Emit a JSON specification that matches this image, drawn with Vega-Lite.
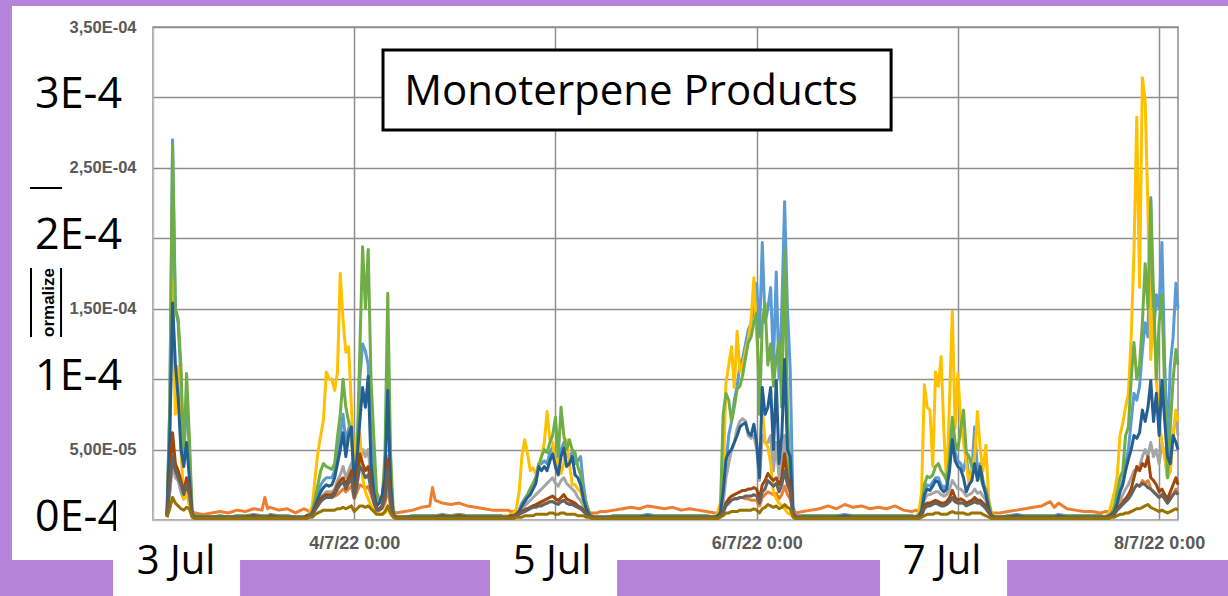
{
"$schema":"https://vega.github.io/schema/vega-lite/v6.json",
"width":1025,"height":493,
"autosize":"none",
"padding":{"left":153,"top":27,"right":50,"bottom":76},
"background":"white",
"config":{"view":{"stroke":"#8e8e8e","strokeWidth":1.5}},
"layer":[
{
"data":{"values":[
{"t":"2022-07-03T01:40","a":3e-6,"b":3e-6,"c":3e-6,"d":2e-6,"e":3e-6,"f":3e-6,"g":3e-6,"h":3e-6,"i":2e-6},
{"t":"2022-07-03T02:00","a":80e-6,"b":20e-6,"c":20e-6,"d":50e-6,"e":80e-6,"f":60e-6,"g":30e-6,"h":25e-6,"i":8e-6},
{"t":"2022-07-03T02:20","a":270e-6,"b":45e-6,"c":40e-6,"d":170e-6,"e":266e-6,"f":154e-6,"g":62e-6,"h":45e-6,"i":16e-6},
{"t":"2022-07-03T02:40","a":150e-6,"b":35e-6,"c":30e-6,"d":75e-6,"e":150e-6,"f":111e-6,"g":40e-6,"h":35e-6,"i":12e-6},
{"t":"2022-07-03T03:00","a":140e-6,"b":30e-6,"c":28e-6,"d":109e-6,"e":143e-6,"f":87e-6,"g":35e-6,"h":30e-6,"i":10e-6},
{"t":"2022-07-03T03:20","a":100e-6,"b":22e-6,"c":20e-6,"d":50e-6,"e":110e-6,"f":50e-6,"g":28e-6,"h":25e-6,"i":8e-6},
{"t":"2022-07-03T03:40","a":40e-6,"b":15e-6,"c":15e-6,"d":15e-6,"e":40e-6,"f":38e-6,"g":20e-6,"h":18e-6,"i":7e-6},
{"t":"2022-07-03T04:00","a":90e-6,"b":20e-6,"c":18e-6,"d":20e-6,"e":104e-6,"f":55e-6,"g":30e-6,"h":25e-6,"i":9e-6},
{"t":"2022-07-03T04:20","a":50e-6,"b":18e-6,"c":15e-6,"d":10e-6,"e":60e-6,"f":30e-6,"g":22e-6,"h":18e-6,"i":8e-6},
{"t":"2022-07-03T04:40","a":5e-6,"b":6e-6,"c":4e-6,"d":3e-6,"e":5e-6,"f":4e-6,"g":4e-6,"h":4e-6,"i":2e-6},
{"t":"2022-07-03T05:00","a":3e-6,"b":5e-6,"c":2e-6,"d":1e-6,"e":3e-6,"f":2e-6,"g":2e-6,"h":2e-6,"i":1e-6},
{"t":"2022-07-03T06:00","a":3e-6,"b":4e-6,"c":2e-6,"d":1e-6,"e":3e-6,"f":2e-6,"g":2e-6,"h":2e-6,"i":1e-6},
{"t":"2022-07-03T07:00","a":2e-6,"b":5e-6,"c":2e-6,"d":1e-6,"e":2e-6,"f":2e-6,"g":2e-6,"h":2e-6,"i":1e-6},
{"t":"2022-07-03T08:00","a":3e-6,"b":6e-6,"c":2e-6,"d":1e-6,"e":3e-6,"f":2e-6,"g":2e-6,"h":2e-6,"i":1e-6},
{"t":"2022-07-03T09:00","a":2e-6,"b":5e-6,"c":2e-6,"d":1e-6,"e":2e-6,"f":2e-6,"g":2e-6,"h":2e-6,"i":1e-6},
{"t":"2022-07-03T10:00","a":3e-6,"b":7e-6,"c":2e-6,"d":1e-6,"e":3e-6,"f":2e-6,"g":2e-6,"h":2e-6,"i":1e-6},
{"t":"2022-07-03T11:00","a":3e-6,"b":6e-6,"c":2e-6,"d":1e-6,"e":3e-6,"f":2e-6,"g":2e-6,"h":2e-6,"i":1e-6},
{"t":"2022-07-03T12:00","a":4e-6,"b":8e-6,"c":3e-6,"d":1e-6,"e":3e-6,"f":3e-6,"g":3e-6,"h":2e-6,"i":1e-6},
{"t":"2022-07-03T13:00","a":3e-6,"b":7e-6,"c":2e-6,"d":1e-6,"e":3e-6,"f":2e-6,"g":2e-6,"h":2e-6,"i":1e-6},
{"t":"2022-07-03T13:20","a":3e-6,"b":16e-6,"c":3e-6,"d":1e-6,"e":3e-6,"f":2e-6,"g":2e-6,"h":2e-6,"i":1e-6},
{"t":"2022-07-03T13:40","a":3e-6,"b":8e-6,"c":2e-6,"d":1e-6,"e":3e-6,"f":2e-6,"g":2e-6,"h":2e-6,"i":1e-6},
{"t":"2022-07-03T14:00","a":4e-6,"b":9e-6,"c":3e-6,"d":1e-6,"e":3e-6,"f":3e-6,"g":3e-6,"h":2e-6,"i":1e-6},
{"t":"2022-07-03T15:00","a":3e-6,"b":7e-6,"c":2e-6,"d":1e-6,"e":3e-6,"f":2e-6,"g":2e-6,"h":2e-6,"i":1e-6},
{"t":"2022-07-03T16:00","a":3e-6,"b":8e-6,"c":2e-6,"d":1e-6,"e":3e-6,"f":2e-6,"g":2e-6,"h":2e-6,"i":1e-6},
{"t":"2022-07-03T17:00","a":2e-6,"b":5e-6,"c":2e-6,"d":1e-6,"e":2e-6,"f":2e-6,"g":2e-6,"h":2e-6,"i":1e-6},
{"t":"2022-07-03T18:00","a":2e-6,"b":8e-6,"c":2e-6,"d":2e-6,"e":2e-6,"f":2e-6,"g":2e-6,"h":2e-6,"i":1e-6},
{"t":"2022-07-03T18:20","a":3e-6,"b":7e-6,"c":3e-6,"d":3e-6,"e":3e-6,"f":3e-6,"g":3e-6,"h":2e-6,"i":1e-6},
{"t":"2022-07-03T18:40","a":3e-6,"b":6e-6,"c":3e-6,"d":5e-6,"e":4e-6,"f":3e-6,"g":3e-6,"h":3e-6,"i":2e-6},
{"t":"2022-07-03T19:00","a":5e-6,"b":5e-6,"c":4e-6,"d":10e-6,"e":6e-6,"f":5e-6,"g":4e-6,"h":4e-6,"i":2e-6},
{"t":"2022-07-03T19:20","a":12e-6,"b":8e-6,"c":8e-6,"d":30e-6,"e":15e-6,"f":10e-6,"g":8e-6,"h":7e-6,"i":4e-6},
{"t":"2022-07-03T19:40","a":18e-6,"b":12e-6,"c":12e-6,"d":48e-6,"e":25e-6,"f":15e-6,"g":12e-6,"h":10e-6,"i":5e-6},
{"t":"2022-07-03T20:00","a":25e-6,"b":14e-6,"c":15e-6,"d":60e-6,"e":35e-6,"f":20e-6,"g":15e-6,"h":13e-6,"i":6e-6},
{"t":"2022-07-03T20:20","a":28e-6,"b":15e-6,"c":18e-6,"d":71e-6,"e":40e-6,"f":23e-6,"g":17e-6,"h":15e-6,"i":7e-6},
{"t":"2022-07-03T20:40","a":30e-6,"b":16e-6,"c":20e-6,"d":105e-6,"e":38e-6,"f":25e-6,"g":18e-6,"h":16e-6,"i":7e-6},
{"t":"2022-07-03T21:00","a":30e-6,"b":16e-6,"c":20e-6,"d":100e-6,"e":37e-6,"f":24e-6,"g":18e-6,"h":16e-6,"i":7e-6},
{"t":"2022-07-03T21:20","a":30e-6,"b":16e-6,"c":20e-6,"d":100e-6,"e":36e-6,"f":25e-6,"g":18e-6,"h":16e-6,"i":7e-6},
{"t":"2022-07-03T21:40","a":35e-6,"b":17e-6,"c":22e-6,"d":92e-6,"e":40e-6,"f":30e-6,"g":20e-6,"h":18e-6,"i":7e-6},
{"t":"2022-07-03T22:00","a":48e-6,"b":18e-6,"c":28e-6,"d":105e-6,"e":59e-6,"f":40e-6,"g":25e-6,"h":22e-6,"i":8e-6},
{"t":"2022-07-03T22:20","a":60e-6,"b":20e-6,"c":32e-6,"d":175e-6,"e":75e-6,"f":50e-6,"g":28e-6,"h":25e-6,"i":8e-6},
{"t":"2022-07-03T22:40","a":75e-6,"b":22e-6,"c":38e-6,"d":142e-6,"e":100e-6,"f":62e-6,"g":30e-6,"h":27e-6,"i":9e-6},
{"t":"2022-07-03T23:00","a":55e-6,"b":20e-6,"c":30e-6,"d":119e-6,"e":80e-6,"f":45e-6,"g":25e-6,"h":22e-6,"i":8e-6},
{"t":"2022-07-03T23:20","a":65e-6,"b":22e-6,"c":35e-6,"d":123e-6,"e":70e-6,"f":60e-6,"g":30e-6,"h":26e-6,"i":9e-6},
{"t":"2022-07-03T23:40","a":60e-6,"b":24e-6,"c":40e-6,"d":80e-6,"e":59e-6,"f":66e-6,"g":35e-6,"h":30e-6,"i":10e-6},
{"t":"2022-07-04T00:00","a":28e-6,"b":15e-6,"c":20e-6,"d":40e-6,"e":30e-6,"f":25e-6,"g":18e-6,"h":16e-6,"i":6e-6},
{"t":"2022-07-04T00:20","a":45e-6,"b":20e-6,"c":30e-6,"d":62e-6,"e":47e-6,"f":43e-6,"g":30e-6,"h":25e-6,"i":8e-6},
{"t":"2022-07-04T00:40","a":100e-6,"b":25e-6,"c":40e-6,"d":62e-6,"e":120e-6,"f":70e-6,"g":47e-6,"h":38e-6,"i":10e-6},
{"t":"2022-07-04T01:00","a":125e-6,"b":24e-6,"c":50e-6,"d":30e-6,"e":194e-6,"f":94e-6,"g":40e-6,"h":35e-6,"i":10e-6},
{"t":"2022-07-04T01:20","a":120e-6,"b":22e-6,"c":45e-6,"d":20e-6,"e":150e-6,"f":80e-6,"g":35e-6,"h":30e-6,"i":9e-6},
{"t":"2022-07-04T01:40","a":110e-6,"b":24e-6,"c":50e-6,"d":15e-6,"e":192e-6,"f":102e-6,"g":38e-6,"h":32e-6,"i":10e-6},
{"t":"2022-07-04T02:00","a":60e-6,"b":18e-6,"c":30e-6,"d":10e-6,"e":100e-6,"f":40e-6,"g":25e-6,"h":22e-6,"i":8e-6},
{"t":"2022-07-04T02:20","a":35e-6,"b":12e-6,"c":18e-6,"d":8e-6,"e":59e-6,"f":20e-6,"g":15e-6,"h":13e-6,"i":6e-6},
{"t":"2022-07-04T02:40","a":12e-6,"b":7e-6,"c":8e-6,"d":5e-6,"e":20e-6,"f":10e-6,"g":8e-6,"h":7e-6,"i":4e-6},
{"t":"2022-07-04T03:00","a":12e-6,"b":7e-6,"c":8e-6,"d":4e-6,"e":14e-6,"f":12e-6,"g":8e-6,"h":7e-6,"i":4e-6},
{"t":"2022-07-04T03:20","a":15e-6,"b":8e-6,"c":10e-6,"d":4e-6,"e":15e-6,"f":18e-6,"g":10e-6,"h":9e-6,"i":4e-6},
{"t":"2022-07-04T03:40","a":35e-6,"b":12e-6,"c":18e-6,"d":5e-6,"e":47e-6,"f":30e-6,"g":18e-6,"h":15e-6,"i":6e-6},
{"t":"2022-07-04T04:00","a":110e-6,"b":22e-6,"c":45e-6,"d":8e-6,"e":161e-6,"f":92e-6,"g":43e-6,"h":35e-6,"i":10e-6},
{"t":"2022-07-04T04:20","a":30e-6,"b":10e-6,"c":15e-6,"d":4e-6,"e":47e-6,"f":25e-6,"g":15e-6,"h":12e-6,"i":5e-6},
{"t":"2022-07-04T04:40","a":3e-6,"b":6e-6,"c":3e-6,"d":2e-6,"e":5e-6,"f":3e-6,"g":3e-6,"h":3e-6,"i":2e-6},
{"t":"2022-07-04T05:00","a":2e-6,"b":5e-6,"c":2e-6,"d":1e-6,"e":2e-6,"f":2e-6,"g":2e-6,"h":2e-6,"i":1e-6},
{"t":"2022-07-04T06:00","a":2e-6,"b":6e-6,"c":2e-6,"d":1e-6,"e":2e-6,"f":2e-6,"g":2e-6,"h":2e-6,"i":1e-6},
{"t":"2022-07-04T07:00","a":3e-6,"b":7e-6,"c":2e-6,"d":1e-6,"e":3e-6,"f":2e-6,"g":2e-6,"h":2e-6,"i":1e-6},
{"t":"2022-07-04T08:00","a":3e-6,"b":9e-6,"c":2e-6,"d":1e-6,"e":3e-6,"f":2e-6,"g":2e-6,"h":2e-6,"i":1e-6},
{"t":"2022-07-04T09:00","a":3e-6,"b":10e-6,"c":2e-6,"d":1e-6,"e":3e-6,"f":2e-6,"g":2e-6,"h":2e-6,"i":1e-6},
{"t":"2022-07-04T09:20","a":3e-6,"b":23e-6,"c":3e-6,"d":1e-6,"e":3e-6,"f":2e-6,"g":2e-6,"h":2e-6,"i":1e-6},
{"t":"2022-07-04T09:40","a":3e-6,"b":14e-6,"c":3e-6,"d":1e-6,"e":3e-6,"f":2e-6,"g":2e-6,"h":2e-6,"i":1e-6},
{"t":"2022-07-04T10:30","a":4e-6,"b":12e-6,"c":3e-6,"d":1e-6,"e":3e-6,"f":3e-6,"g":3e-6,"h":2e-6,"i":1e-6},
{"t":"2022-07-04T11:30","a":3e-6,"b":11e-6,"c":2e-6,"d":1e-6,"e":3e-6,"f":2e-6,"g":2e-6,"h":2e-6,"i":1e-6},
{"t":"2022-07-04T12:30","a":4e-6,"b":12e-6,"c":3e-6,"d":1e-6,"e":4e-6,"f":3e-6,"g":3e-6,"h":2e-6,"i":1e-6},
{"t":"2022-07-04T13:30","a":3e-6,"b":10e-6,"c":2e-6,"d":1e-6,"e":3e-6,"f":2e-6,"g":2e-6,"h":2e-6,"i":1e-6},
{"t":"2022-07-04T14:30","a":3e-6,"b":9e-6,"c":2e-6,"d":1e-6,"e":3e-6,"f":2e-6,"g":2e-6,"h":2e-6,"i":1e-6},
{"t":"2022-07-04T15:30","a":3e-6,"b":8e-6,"c":2e-6,"d":1e-6,"e":3e-6,"f":2e-6,"g":2e-6,"h":2e-6,"i":1e-6},
{"t":"2022-07-04T16:30","a":3e-6,"b":7e-6,"c":2e-6,"d":1e-6,"e":3e-6,"f":2e-6,"g":2e-6,"h":2e-6,"i":1e-6},
{"t":"2022-07-04T17:30","a":3e-6,"b":7e-6,"c":2e-6,"d":1e-6,"e":3e-6,"f":2e-6,"g":2e-6,"h":2e-6,"i":1e-6},
{"t":"2022-07-04T18:00","a":2e-6,"b":7e-6,"c":2e-6,"d":3e-6,"e":2e-6,"f":2e-6,"g":2e-6,"h":2e-6,"i":1e-6},
{"t":"2022-07-04T18:20","a":2e-6,"b":7e-6,"c":2e-6,"d":3e-6,"e":2e-6,"f":2e-6,"g":2e-6,"h":2e-6,"i":1e-6},
{"t":"2022-07-04T18:40","a":3e-6,"b":6e-6,"c":3e-6,"d":4e-6,"e":3e-6,"f":3e-6,"g":3e-6,"h":2e-6,"i":1e-6},
{"t":"2022-07-04T19:00","a":3e-6,"b":6e-6,"c":3e-6,"d":5e-6,"e":3e-6,"f":3e-6,"g":3e-6,"h":3e-6,"i":1e-6},
{"t":"2022-07-04T19:20","a":4e-6,"b":6e-6,"c":4e-6,"d":8e-6,"e":4e-6,"f":4e-6,"g":4e-6,"h":3e-6,"i":2e-6},
{"t":"2022-07-04T19:40","a":7e-6,"b":6e-6,"c":5e-6,"d":20e-6,"e":6e-6,"f":6e-6,"g":5e-6,"h":4e-6,"i":2e-6},
{"t":"2022-07-04T20:00","a":12e-6,"b":7e-6,"c":8e-6,"d":45e-6,"e":10e-6,"f":10e-6,"g":6e-6,"h":5e-6,"i":2e-6},
{"t":"2022-07-04T20:20","a":15e-6,"b":8e-6,"c":10e-6,"d":57e-6,"e":14e-6,"f":13e-6,"g":7e-6,"h":6e-6,"i":3e-6},
{"t":"2022-07-04T20:40","a":18e-6,"b":8e-6,"c":12e-6,"d":47e-6,"e":18e-6,"f":16e-6,"g":8e-6,"h":7e-6,"i":3e-6},
{"t":"2022-07-04T21:00","a":22e-6,"b":9e-6,"c":14e-6,"d":35e-6,"e":22e-6,"f":18e-6,"g":9e-6,"h":8e-6,"i":3e-6},
{"t":"2022-07-04T21:20","a":26e-6,"b":10e-6,"c":16e-6,"d":37e-6,"e":26e-6,"f":22e-6,"g":10e-6,"h":9e-6,"i":3e-6},
{"t":"2022-07-04T21:40","a":30e-6,"b":10e-6,"c":18e-6,"d":33e-6,"e":30e-6,"f":26e-6,"g":11e-6,"h":9e-6,"i":4e-6},
{"t":"2022-07-04T22:00","a":40e-6,"b":11e-6,"c":20e-6,"d":38e-6,"e":38e-6,"f":38e-6,"g":12e-6,"h":10e-6,"i":4e-6},
{"t":"2022-07-04T22:20","a":40e-6,"b":11e-6,"c":22e-6,"d":45e-6,"e":45e-6,"f":35e-6,"g":13e-6,"h":10e-6,"i":4e-6},
{"t":"2022-07-04T22:40","a":42e-6,"b":12e-6,"c":24e-6,"d":55e-6,"e":50e-6,"f":38e-6,"g":14e-6,"h":11e-6,"i":4e-6},
{"t":"2022-07-04T23:00","a":40e-6,"b":12e-6,"c":26e-6,"d":77e-6,"e":48e-6,"f":35e-6,"g":15e-6,"h":12e-6,"i":4e-6},
{"t":"2022-07-04T23:20","a":48e-6,"b":13e-6,"c":28e-6,"d":57e-6,"e":55e-6,"f":42e-6,"g":16e-6,"h":13e-6,"i":5e-6},
{"t":"2022-07-04T23:40","a":52e-6,"b":13e-6,"c":30e-6,"d":55e-6,"e":60e-6,"f":47e-6,"g":17e-6,"h":13e-6,"i":5e-6},
{"t":"2022-07-05T00:00","a":45e-6,"b":12e-6,"c":26e-6,"d":37e-6,"e":73e-6,"f":38e-6,"g":15e-6,"h":12e-6,"i":4e-6},
{"t":"2022-07-05T00:20","a":38e-6,"b":12e-6,"c":24e-6,"d":45e-6,"e":45e-6,"f":32e-6,"g":14e-6,"h":11e-6,"i":4e-6},
{"t":"2022-07-05T00:40","a":50e-6,"b":13e-6,"c":28e-6,"d":33e-6,"e":80e-6,"f":45e-6,"g":16e-6,"h":13e-6,"i":5e-6},
{"t":"2022-07-05T01:00","a":55e-6,"b":14e-6,"c":30e-6,"d":40e-6,"e":60e-6,"f":51e-6,"g":18e-6,"h":14e-6,"i":5e-6},
{"t":"2022-07-05T01:20","a":45e-6,"b":12e-6,"c":26e-6,"d":57e-6,"e":50e-6,"f":38e-6,"g":15e-6,"h":12e-6,"i":4e-6},
{"t":"2022-07-05T01:40","a":45e-6,"b":12e-6,"c":24e-6,"d":40e-6,"e":57e-6,"f":40e-6,"g":14e-6,"h":11e-6,"i":4e-6},
{"t":"2022-07-05T02:00","a":48e-6,"b":11e-6,"c":22e-6,"d":25e-6,"e":50e-6,"f":45e-6,"g":13e-6,"h":11e-6,"i":4e-6},
{"t":"2022-07-05T02:20","a":40e-6,"b":10e-6,"c":20e-6,"d":25e-6,"e":48e-6,"f":32e-6,"g":12e-6,"h":10e-6,"i":4e-6},
{"t":"2022-07-05T02:40","a":42e-6,"b":9e-6,"c":16e-6,"d":22e-6,"e":38e-6,"f":30e-6,"g":10e-6,"h":9e-6,"i":3e-6},
{"t":"2022-07-05T03:00","a":45e-6,"b":8e-6,"c":14e-6,"d":20e-6,"e":32e-6,"f":25e-6,"g":9e-6,"h":8e-6,"i":3e-6},
{"t":"2022-07-05T03:20","a":25e-6,"b":7e-6,"c":10e-6,"d":14e-6,"e":18e-6,"f":15e-6,"g":7e-6,"h":6e-6,"i":3e-6},
{"t":"2022-07-05T03:40","a":12e-6,"b":6e-6,"c":6e-6,"d":10e-6,"e":12e-6,"f":8e-6,"g":5e-6,"h":4e-6,"i":2e-6},
{"t":"2022-07-05T04:00","a":5e-6,"b":5e-6,"c":4e-6,"d":5e-6,"e":6e-6,"f":4e-6,"g":3e-6,"h":3e-6,"i":2e-6},
{"t":"2022-07-05T04:20","a":3e-6,"b":5e-6,"c":2e-6,"d":3e-6,"e":3e-6,"f":2e-6,"g":2e-6,"h":2e-6,"i":1e-6},
{"t":"2022-07-05T04:40","a":2e-6,"b":5e-6,"c":2e-6,"d":2e-6,"e":2e-6,"f":2e-6,"g":2e-6,"h":2e-6,"i":1e-6},
{"t":"2022-07-05T05:00","a":2e-6,"b":5e-6,"c":2e-6,"d":2e-6,"e":2e-6,"f":2e-6,"g":2e-6,"h":2e-6,"i":1e-6},
{"t":"2022-07-05T05:20","a":2e-6,"b":6e-6,"c":2e-6,"d":2e-6,"e":2e-6,"f":2e-6,"g":2e-6,"h":2e-6,"i":1e-6},
{"t":"2022-07-05T06:00","a":2e-6,"b":6e-6,"c":2e-6,"d":1e-6,"e":2e-6,"f":2e-6,"g":2e-6,"h":2e-6,"i":1e-6},
{"t":"2022-07-05T07:00","a":3e-6,"b":7e-6,"c":2e-6,"d":1e-6,"e":3e-6,"f":2e-6,"g":2e-6,"h":2e-6,"i":1e-6},
{"t":"2022-07-05T08:00","a":3e-6,"b":8e-6,"c":2e-6,"d":1e-6,"e":3e-6,"f":2e-6,"g":2e-6,"h":2e-6,"i":1e-6},
{"t":"2022-07-05T09:00","a":3e-6,"b":9e-6,"c":3e-6,"d":1e-6,"e":3e-6,"f":2e-6,"g":2e-6,"h":2e-6,"i":1e-6},
{"t":"2022-07-05T10:00","a":3e-6,"b":8e-6,"c":2e-6,"d":1e-6,"e":3e-6,"f":2e-6,"g":2e-6,"h":2e-6,"i":1e-6},
{"t":"2022-07-05T11:00","a":4e-6,"b":10e-6,"c":3e-6,"d":1e-6,"e":3e-6,"f":3e-6,"g":2e-6,"h":2e-6,"i":1e-6},
{"t":"2022-07-05T12:00","a":3e-6,"b":9e-6,"c":2e-6,"d":1e-6,"e":3e-6,"f":2e-6,"g":2e-6,"h":2e-6,"i":1e-6},
{"t":"2022-07-05T13:00","a":3e-6,"b":8e-6,"c":2e-6,"d":1e-6,"e":3e-6,"f":2e-6,"g":2e-6,"h":2e-6,"i":1e-6},
{"t":"2022-07-05T14:00","a":3e-6,"b":9e-6,"c":2e-6,"d":1e-6,"e":3e-6,"f":2e-6,"g":2e-6,"h":2e-6,"i":1e-6},
{"t":"2022-07-05T15:00","a":3e-6,"b":7e-6,"c":2e-6,"d":1e-6,"e":3e-6,"f":2e-6,"g":2e-6,"h":2e-6,"i":1e-6},
{"t":"2022-07-05T16:00","a":3e-6,"b":8e-6,"c":2e-6,"d":1e-6,"e":3e-6,"f":2e-6,"g":2e-6,"h":2e-6,"i":1e-6},
{"t":"2022-07-05T17:00","a":3e-6,"b":7e-6,"c":2e-6,"d":1e-6,"e":3e-6,"f":2e-6,"g":2e-6,"h":2e-6,"i":1e-6},
{"t":"2022-07-05T18:00","a":3e-6,"b":6e-6,"c":2e-6,"d":1e-6,"e":3e-6,"f":2e-6,"g":2e-6,"h":2e-6,"i":1e-6},
{"t":"2022-07-05T19:00","a":2e-6,"b":5e-6,"c":2e-6,"d":3e-6,"e":2e-6,"f":2e-6,"g":2e-6,"h":2e-6,"i":1e-6},
{"t":"2022-07-05T19:20","a":3e-6,"b":5e-6,"c":3e-6,"d":5e-6,"e":3e-6,"f":3e-6,"g":2e-6,"h":2e-6,"i":1e-6},
{"t":"2022-07-05T19:40","a":5e-6,"b":6e-6,"c":4e-6,"d":12e-6,"e":6e-6,"f":5e-6,"g":3e-6,"h":3e-6,"i":2e-6},
{"t":"2022-07-05T20:00","a":15e-6,"b":8e-6,"c":12e-6,"d":28e-6,"e":75e-6,"f":20e-6,"g":6e-6,"h":5e-6,"i":3e-6},
{"t":"2022-07-05T20:20","a":40e-6,"b":12e-6,"c":30e-6,"d":97e-6,"e":90e-6,"f":43e-6,"g":12e-6,"h":10e-6,"i":5e-6},
{"t":"2022-07-05T20:40","a":60e-6,"b":13e-6,"c":40e-6,"d":110e-6,"e":85e-6,"f":48e-6,"g":15e-6,"h":12e-6,"i":5e-6},
{"t":"2022-07-05T21:00","a":70e-6,"b":14e-6,"c":50e-6,"d":123e-6,"e":70e-6,"f":50e-6,"g":17e-6,"h":14e-6,"i":6e-6},
{"t":"2022-07-05T21:20","a":85e-6,"b":15e-6,"c":55e-6,"d":94e-6,"e":80e-6,"f":55e-6,"g":18e-6,"h":15e-6,"i":6e-6},
{"t":"2022-07-05T21:40","a":95e-6,"b":15e-6,"c":65e-6,"d":134e-6,"e":93e-6,"f":60e-6,"g":19e-6,"h":15e-6,"i":6e-6},
{"t":"2022-07-05T22:00","a":110e-6,"b":16e-6,"c":70e-6,"d":105e-6,"e":95e-6,"f":66e-6,"g":20e-6,"h":16e-6,"i":7e-6},
{"t":"2022-07-05T22:20","a":115e-6,"b":16e-6,"c":72e-6,"d":110e-6,"e":103e-6,"f":68e-6,"g":21e-6,"h":16e-6,"i":7e-6},
{"t":"2022-07-05T22:40","a":125e-6,"b":15e-6,"c":70e-6,"d":120e-6,"e":115e-6,"f":69e-6,"g":21e-6,"h":17e-6,"i":7e-6},
{"t":"2022-07-05T23:00","a":135e-6,"b":15e-6,"c":60e-6,"d":128e-6,"e":126e-6,"f":62e-6,"g":22e-6,"h":17e-6,"i":7e-6},
{"t":"2022-07-05T23:20","a":140e-6,"b":14e-6,"c":58e-6,"d":142e-6,"e":130e-6,"f":60e-6,"g":22e-6,"h":17e-6,"i":7e-6},
{"t":"2022-07-05T23:40","a":150e-6,"b":14e-6,"c":60e-6,"d":172e-6,"e":140e-6,"f":68e-6,"g":23e-6,"h":18e-6,"i":8e-6},
{"t":"2022-07-06T00:00","a":168e-6,"b":14e-6,"c":50e-6,"d":130e-6,"e":147e-6,"f":55e-6,"g":22e-6,"h":17e-6,"i":7e-6},
{"t":"2022-07-06T00:20","a":130e-6,"b":10e-6,"c":28e-6,"d":100e-6,"e":75e-6,"f":30e-6,"g":15e-6,"h":12e-6,"i":5e-6},
{"t":"2022-07-06T00:40","a":197e-6,"b":16e-6,"c":60e-6,"d":80e-6,"e":140e-6,"f":94e-6,"g":25e-6,"h":20e-6,"i":8e-6},
{"t":"2022-07-06T01:00","a":140e-6,"b":18e-6,"c":55e-6,"d":55e-6,"e":154e-6,"f":75e-6,"g":28e-6,"h":22e-6,"i":9e-6},
{"t":"2022-07-06T01:20","a":150e-6,"b":20e-6,"c":55e-6,"d":52e-6,"e":110e-6,"f":80e-6,"g":33e-6,"h":28e-6,"i":11e-6},
{"t":"2022-07-06T01:40","a":165e-6,"b":19e-6,"c":60e-6,"d":40e-6,"e":125e-6,"f":94e-6,"g":30e-6,"h":26e-6,"i":10e-6},
{"t":"2022-07-06T02:00","a":110e-6,"b":18e-6,"c":35e-6,"d":20e-6,"e":95e-6,"f":50e-6,"g":28e-6,"h":24e-6,"i":9e-6},
{"t":"2022-07-06T02:20","a":176e-6,"b":19e-6,"c":55e-6,"d":15e-6,"e":115e-6,"f":99e-6,"g":30e-6,"h":26e-6,"i":10e-6},
{"t":"2022-07-06T02:40","a":100e-6,"b":15e-6,"c":30e-6,"d":12e-6,"e":128e-6,"f":40e-6,"g":25e-6,"h":20e-6,"i":8e-6},
{"t":"2022-07-06T03:00","a":150e-6,"b":18e-6,"c":40e-6,"d":10e-6,"e":80e-6,"f":60e-6,"g":30e-6,"h":25e-6,"i":9e-6},
{"t":"2022-07-06T03:20","a":226e-6,"b":24e-6,"c":60e-6,"d":8e-6,"e":192e-6,"f":114e-6,"g":47e-6,"h":35e-6,"i":11e-6},
{"t":"2022-07-06T03:40","a":150e-6,"b":18e-6,"c":35e-6,"d":5e-6,"e":80e-6,"f":50e-6,"g":30e-6,"h":25e-6,"i":9e-6},
{"t":"2022-07-06T04:00","a":107e-6,"b":15e-6,"c":28e-6,"d":4e-6,"e":20e-6,"f":45e-6,"g":25e-6,"h":20e-6,"i":8e-6},
{"t":"2022-07-06T04:20","a":10e-6,"b":6e-6,"c":4e-6,"d":3e-6,"e":5e-6,"f":5e-6,"g":4e-6,"h":3e-6,"i":2e-6},
{"t":"2022-07-06T04:40","a":3e-6,"b":5e-6,"c":2e-6,"d":2e-6,"e":2e-6,"f":2e-6,"g":2e-6,"h":2e-6,"i":1e-6},
{"t":"2022-07-06T05:30","a":3e-6,"b":6e-6,"c":2e-6,"d":1e-6,"e":3e-6,"f":2e-6,"g":2e-6,"h":2e-6,"i":1e-6},
{"t":"2022-07-06T06:30","a":3e-6,"b":7e-6,"c":2e-6,"d":1e-6,"e":3e-6,"f":2e-6,"g":2e-6,"h":2e-6,"i":1e-6},
{"t":"2022-07-06T07:30","a":3e-6,"b":8e-6,"c":2e-6,"d":1e-6,"e":3e-6,"f":2e-6,"g":2e-6,"h":2e-6,"i":1e-6},
{"t":"2022-07-06T08:30","a":3e-6,"b":10e-6,"c":3e-6,"d":1e-6,"e":3e-6,"f":2e-6,"g":2e-6,"h":2e-6,"i":1e-6},
{"t":"2022-07-06T09:30","a":3e-6,"b":8e-6,"c":2e-6,"d":1e-6,"e":3e-6,"f":2e-6,"g":2e-6,"h":2e-6,"i":1e-6},
{"t":"2022-07-06T10:30","a":4e-6,"b":11e-6,"c":3e-6,"d":1e-6,"e":3e-6,"f":3e-6,"g":2e-6,"h":2e-6,"i":1e-6},
{"t":"2022-07-06T11:30","a":3e-6,"b":9e-6,"c":2e-6,"d":1e-6,"e":3e-6,"f":2e-6,"g":2e-6,"h":2e-6,"i":1e-6},
{"t":"2022-07-06T12:30","a":3e-6,"b":10e-6,"c":2e-6,"d":1e-6,"e":3e-6,"f":2e-6,"g":2e-6,"h":2e-6,"i":1e-6},
{"t":"2022-07-06T13:30","a":3e-6,"b":8e-6,"c":2e-6,"d":1e-6,"e":3e-6,"f":2e-6,"g":2e-6,"h":2e-6,"i":1e-6},
{"t":"2022-07-06T14:30","a":3e-6,"b":9e-6,"c":2e-6,"d":1e-6,"e":3e-6,"f":2e-6,"g":2e-6,"h":2e-6,"i":1e-6},
{"t":"2022-07-06T15:30","a":3e-6,"b":8e-6,"c":2e-6,"d":1e-6,"e":3e-6,"f":2e-6,"g":2e-6,"h":2e-6,"i":1e-6},
{"t":"2022-07-06T16:30","a":3e-6,"b":10e-6,"c":2e-6,"d":1e-6,"e":3e-6,"f":2e-6,"g":2e-6,"h":2e-6,"i":1e-6},
{"t":"2022-07-06T17:30","a":3e-6,"b":7e-6,"c":2e-6,"d":1e-6,"e":3e-6,"f":2e-6,"g":2e-6,"h":2e-6,"i":1e-6},
{"t":"2022-07-06T18:30","a":3e-6,"b":6e-6,"c":2e-6,"d":1e-6,"e":3e-6,"f":2e-6,"g":2e-6,"h":2e-6,"i":1e-6},
{"t":"2022-07-06T19:00","a":2e-6,"b":7e-6,"c":2e-6,"d":3e-6,"e":2e-6,"f":2e-6,"g":2e-6,"h":2e-6,"i":1e-6},
{"t":"2022-07-06T19:20","a":3e-6,"b":6e-6,"c":3e-6,"d":5e-6,"e":3e-6,"f":3e-6,"g":2e-6,"h":2e-6,"i":1e-6},
{"t":"2022-07-06T19:40","a":6e-6,"b":7e-6,"c":5e-6,"d":20e-6,"e":8e-6,"f":6e-6,"g":4e-6,"h":3e-6,"i":2e-6},
{"t":"2022-07-06T20:00","a":20e-6,"b":10e-6,"c":14e-6,"d":96e-6,"e":25e-6,"f":18e-6,"g":10e-6,"h":8e-6,"i":3e-6},
{"t":"2022-07-06T20:20","a":25e-6,"b":11e-6,"c":18e-6,"d":80e-6,"e":31e-6,"f":22e-6,"g":12e-6,"h":10e-6,"i":4e-6},
{"t":"2022-07-06T20:40","a":24e-6,"b":11e-6,"c":18e-6,"d":78e-6,"e":30e-6,"f":21e-6,"g":12e-6,"h":10e-6,"i":4e-6},
{"t":"2022-07-06T21:00","a":27e-6,"b":12e-6,"c":19e-6,"d":38e-6,"e":32e-6,"f":24e-6,"g":13e-6,"h":11e-6,"i":4e-6},
{"t":"2022-07-06T21:20","a":30e-6,"b":12e-6,"c":20e-6,"d":105e-6,"e":38e-6,"f":28e-6,"g":14e-6,"h":12e-6,"i":5e-6},
{"t":"2022-07-06T21:40","a":30e-6,"b":12e-6,"c":20e-6,"d":95e-6,"e":40e-6,"f":27e-6,"g":13e-6,"h":11e-6,"i":5e-6},
{"t":"2022-07-06T22:00","a":25e-6,"b":11e-6,"c":18e-6,"d":116e-6,"e":35e-6,"f":22e-6,"g":12e-6,"h":10e-6,"i":4e-6},
{"t":"2022-07-06T22:20","a":23e-6,"b":11e-6,"c":17e-6,"d":62e-6,"e":32e-6,"f":20e-6,"g":12e-6,"h":10e-6,"i":4e-6},
{"t":"2022-07-06T22:40","a":25e-6,"b":11e-6,"c":18e-6,"d":25e-6,"e":28e-6,"f":22e-6,"g":13e-6,"h":11e-6,"i":4e-6},
{"t":"2022-07-06T23:00","a":40e-6,"b":13e-6,"c":22e-6,"d":85e-6,"e":45e-6,"f":35e-6,"g":16e-6,"h":13e-6,"i":5e-6},
{"t":"2022-07-06T23:20","a":62e-6,"b":15e-6,"c":28e-6,"d":148e-6,"e":73e-6,"f":57e-6,"g":21e-6,"h":16e-6,"i":6e-6},
{"t":"2022-07-06T23:40","a":48e-6,"b":13e-6,"c":25e-6,"d":65e-6,"e":55e-6,"f":42e-6,"g":16e-6,"h":13e-6,"i":5e-6},
{"t":"2022-07-07T00:00","a":42e-6,"b":12e-6,"c":22e-6,"d":104e-6,"e":50e-6,"f":38e-6,"g":14e-6,"h":12e-6,"i":5e-6},
{"t":"2022-07-07T00:20","a":40e-6,"b":12e-6,"c":22e-6,"d":70e-6,"e":65e-6,"f":36e-6,"g":15e-6,"h":12e-6,"i":5e-6},
{"t":"2022-07-07T00:40","a":35e-6,"b":12e-6,"c":20e-6,"d":55e-6,"e":78e-6,"f":30e-6,"g":14e-6,"h":12e-6,"i":5e-6},
{"t":"2022-07-07T01:00","a":45e-6,"b":11e-6,"c":17e-6,"d":40e-6,"e":48e-6,"f":20e-6,"g":12e-6,"h":10e-6,"i":4e-6},
{"t":"2022-07-07T01:20","a":30e-6,"b":11e-6,"c":18e-6,"d":25e-6,"e":45e-6,"f":25e-6,"g":13e-6,"h":11e-6,"i":4e-6},
{"t":"2022-07-07T01:40","a":35e-6,"b":12e-6,"c":19e-6,"d":35e-6,"e":38e-6,"f":28e-6,"g":14e-6,"h":12e-6,"i":5e-6},
{"t":"2022-07-07T02:00","a":66e-6,"b":13e-6,"c":22e-6,"d":45e-6,"e":40e-6,"f":40e-6,"g":16e-6,"h":13e-6,"i":5e-6},
{"t":"2022-07-07T02:20","a":35e-6,"b":12e-6,"c":19e-6,"d":77e-6,"e":35e-6,"f":28e-6,"g":14e-6,"h":12e-6,"i":5e-6},
{"t":"2022-07-07T02:40","a":40e-6,"b":12e-6,"c":20e-6,"d":50e-6,"e":30e-6,"f":38e-6,"g":14e-6,"h":12e-6,"i":5e-6},
{"t":"2022-07-07T03:00","a":28e-6,"b":11e-6,"c":17e-6,"d":35e-6,"e":25e-6,"f":25e-6,"g":12e-6,"h":10e-6,"i":4e-6},
{"t":"2022-07-07T03:20","a":20e-6,"b":9e-6,"c":14e-6,"d":53e-6,"e":22e-6,"f":18e-6,"g":10e-6,"h":8e-6,"i":3e-6},
{"t":"2022-07-07T03:40","a":8e-6,"b":6e-6,"c":7e-6,"d":15e-6,"e":12e-6,"f":8e-6,"g":6e-6,"h":5e-6,"i":2e-6},
{"t":"2022-07-07T04:00","a":3e-6,"b":5e-6,"c":3e-6,"d":5e-6,"e":4e-6,"f":3e-6,"g":3e-6,"h":3e-6,"i":1e-6},
{"t":"2022-07-07T04:20","a":2e-6,"b":5e-6,"c":2e-6,"d":3e-6,"e":2e-6,"f":2e-6,"g":2e-6,"h":2e-6,"i":1e-6},
{"t":"2022-07-07T04:40","a":2e-6,"b":5e-6,"c":2e-6,"d":2e-6,"e":2e-6,"f":2e-6,"g":2e-6,"h":2e-6,"i":1e-6},
{"t":"2022-07-07T05:00","a":2e-6,"b":5e-6,"c":2e-6,"d":2e-6,"e":2e-6,"f":2e-6,"g":2e-6,"h":2e-6,"i":1e-6},
{"t":"2022-07-07T06:00","a":3e-6,"b":6e-6,"c":2e-6,"d":1e-6,"e":3e-6,"f":2e-6,"g":2e-6,"h":2e-6,"i":1e-6},
{"t":"2022-07-07T07:00","a":4e-6,"b":7e-6,"c":2e-6,"d":1e-6,"e":3e-6,"f":3e-6,"g":2e-6,"h":2e-6,"i":1e-6},
{"t":"2022-07-07T08:00","a":3e-6,"b":8e-6,"c":2e-6,"d":1e-6,"e":3e-6,"f":2e-6,"g":2e-6,"h":2e-6,"i":1e-6},
{"t":"2022-07-07T09:00","a":3e-6,"b":9e-6,"c":2e-6,"d":1e-6,"e":3e-6,"f":2e-6,"g":2e-6,"h":2e-6,"i":1e-6},
{"t":"2022-07-07T10:00","a":3e-6,"b":10e-6,"c":2e-6,"d":1e-6,"e":3e-6,"f":2e-6,"g":2e-6,"h":2e-6,"i":1e-6},
{"t":"2022-07-07T11:00","a":3e-6,"b":13e-6,"c":3e-6,"d":1e-6,"e":3e-6,"f":2e-6,"g":2e-6,"h":2e-6,"i":1e-6},
{"t":"2022-07-07T11:30","a":3e-6,"b":9e-6,"c":2e-6,"d":1e-6,"e":3e-6,"f":2e-6,"g":2e-6,"h":2e-6,"i":1e-6},
{"t":"2022-07-07T12:00","a":4e-6,"b":12e-6,"c":3e-6,"d":1e-6,"e":3e-6,"f":3e-6,"g":2e-6,"h":2e-6,"i":1e-6},
{"t":"2022-07-07T13:00","a":3e-6,"b":8e-6,"c":2e-6,"d":1e-6,"e":3e-6,"f":2e-6,"g":2e-6,"h":2e-6,"i":1e-6},
{"t":"2022-07-07T14:00","a":3e-6,"b":7e-6,"c":2e-6,"d":1e-6,"e":3e-6,"f":2e-6,"g":2e-6,"h":2e-6,"i":1e-6},
{"t":"2022-07-07T15:00","a":3e-6,"b":6e-6,"c":2e-6,"d":1e-6,"e":3e-6,"f":2e-6,"g":2e-6,"h":2e-6,"i":1e-6},
{"t":"2022-07-07T16:00","a":3e-6,"b":6e-6,"c":2e-6,"d":1e-6,"e":3e-6,"f":2e-6,"g":2e-6,"h":2e-6,"i":1e-6},
{"t":"2022-07-07T17:00","a":3e-6,"b":5e-6,"c":2e-6,"d":1e-6,"e":3e-6,"f":2e-6,"g":2e-6,"h":2e-6,"i":1e-6},
{"t":"2022-07-07T17:40","a":2e-6,"b":6e-6,"c":2e-6,"d":3e-6,"e":2e-6,"f":2e-6,"g":2e-6,"h":2e-6,"i":1e-6},
{"t":"2022-07-07T18:00","a":3e-6,"b":6e-6,"c":3e-6,"d":5e-6,"e":3e-6,"f":3e-6,"g":2e-6,"h":2e-6,"i":1e-6},
{"t":"2022-07-07T18:20","a":5e-6,"b":6e-6,"c":4e-6,"d":12e-6,"e":5e-6,"f":4e-6,"g":3e-6,"h":3e-6,"i":2e-6},
{"t":"2022-07-07T18:40","a":8e-6,"b":7e-6,"c":6e-6,"d":20e-6,"e":10e-6,"f":6e-6,"g":5e-6,"h":4e-6,"i":2e-6},
{"t":"2022-07-07T19:00","a":15e-6,"b":10e-6,"c":10e-6,"d":31e-6,"e":20e-6,"f":12e-6,"g":8e-6,"h":7e-6,"i":3e-6},
{"t":"2022-07-07T19:20","a":22e-6,"b":12e-6,"c":14e-6,"d":60e-6,"e":30e-6,"f":20e-6,"g":10e-6,"h":9e-6,"i":4e-6},
{"t":"2022-07-07T19:40","a":28e-6,"b":14e-6,"c":18e-6,"d":69e-6,"e":35e-6,"f":25e-6,"g":12e-6,"h":11e-6,"i":4e-6},
{"t":"2022-07-07T20:00","a":40e-6,"b":15e-6,"c":22e-6,"d":80e-6,"e":60e-6,"f":35e-6,"g":15e-6,"h":13e-6,"i":5e-6},
{"t":"2022-07-07T20:20","a":50e-6,"b":16e-6,"c":25e-6,"d":90e-6,"e":66e-6,"f":43e-6,"g":18e-6,"h":15e-6,"i":5e-6},
{"t":"2022-07-07T20:40","a":70e-6,"b":18e-6,"c":30e-6,"d":130e-6,"e":100e-6,"f":50e-6,"g":22e-6,"h":18e-6,"i":6e-6},
{"t":"2022-07-07T21:00","a":90e-6,"b":22e-6,"c":35e-6,"d":190e-6,"e":126e-6,"f":60e-6,"g":30e-6,"h":22e-6,"i":7e-6},
{"t":"2022-07-07T21:20","a":85e-6,"b":25e-6,"c":35e-6,"d":286e-6,"e":100e-6,"f":58e-6,"g":38e-6,"h":25e-6,"i":8e-6},
{"t":"2022-07-07T21:40","a":95e-6,"b":24e-6,"c":38e-6,"d":165e-6,"e":110e-6,"f":62e-6,"g":35e-6,"h":24e-6,"i":8e-6},
{"t":"2022-07-07T22:00","a":120e-6,"b":28e-6,"c":45e-6,"d":314e-6,"e":140e-6,"f":78e-6,"g":40e-6,"h":26e-6,"i":9e-6},
{"t":"2022-07-07T22:20","a":140e-6,"b":26e-6,"c":50e-6,"d":298e-6,"e":182e-6,"f":70e-6,"g":38e-6,"h":25e-6,"i":10e-6},
{"t":"2022-07-07T22:40","a":130e-6,"b":28e-6,"c":45e-6,"d":220e-6,"e":150e-6,"f":80e-6,"g":45e-6,"h":23e-6,"i":11e-6},
{"t":"2022-07-07T23:00","a":229e-6,"b":22e-6,"c":55e-6,"d":114e-6,"e":227e-6,"f":99e-6,"g":30e-6,"h":22e-6,"i":9e-6},
{"t":"2022-07-07T23:20","a":130e-6,"b":20e-6,"c":45e-6,"d":150e-6,"e":160e-6,"f":70e-6,"g":28e-6,"h":20e-6,"i":8e-6},
{"t":"2022-07-07T23:40","a":160e-6,"b":18e-6,"c":50e-6,"d":100e-6,"e":100e-6,"f":90e-6,"g":25e-6,"h":18e-6,"i":7e-6},
{"t":"2022-07-08T00:00","a":150e-6,"b":16e-6,"c":40e-6,"d":70e-6,"e":140e-6,"f":60e-6,"g":20e-6,"h":16e-6,"i":6e-6},
{"t":"2022-07-08T00:20","a":197e-6,"b":18e-6,"c":55e-6,"d":55e-6,"e":160e-6,"f":99e-6,"g":22e-6,"h":18e-6,"i":7e-6},
{"t":"2022-07-08T00:40","a":110e-6,"b":15e-6,"c":45e-6,"d":45e-6,"e":90e-6,"f":70e-6,"g":18e-6,"h":15e-6,"i":6e-6},
{"t":"2022-07-08T01:00","a":55e-6,"b":12e-6,"c":30e-6,"d":30e-6,"e":30e-6,"f":45e-6,"g":15e-6,"h":12e-6,"i":5e-6},
{"t":"2022-07-08T01:20","a":110e-6,"b":15e-6,"c":35e-6,"d":35e-6,"e":66e-6,"f":40e-6,"g":20e-6,"h":15e-6,"i":6e-6},
{"t":"2022-07-08T01:40","a":130e-6,"b":18e-6,"c":60e-6,"d":60e-6,"e":100e-6,"f":60e-6,"g":25e-6,"h":18e-6,"i":7e-6},
{"t":"2022-07-08T02:00","a":168e-6,"b":22e-6,"c":76e-6,"d":78e-6,"e":121e-6,"f":55e-6,"g":30e-6,"h":20e-6,"i":8e-6},
{"t":"2022-07-08T02:15","a":150e-6,"b":18e-6,"c":60e-6,"d":70e-6,"e":110e-6,"f":50e-6,"g":25e-6,"h":18e-6,"i":7e-6}
]},
"transform":[{"fold":["a","b","c","d","e","f","g","h","i"],"as":["series","value"]}],
"mark":{"type":"line","strokeWidth":3,"strokeJoin":"round"},
"encoding":{
"x":{"field":"t","type":"temporal",
"scale":{"domain":[{"year":2022,"month":7,"date":3,"hours":0},{"year":2022,"month":7,"date":8,"hours":2,"minutes":15}],"nice":false},
"axis":{"values":[{"year":2022,"month":7,"date":3},{"year":2022,"month":7,"date":4},{"year":2022,"month":7,"date":5},{"year":2022,"month":7,"date":6},{"year":2022,"month":7,"date":7},{"year":2022,"month":7,"date":8}],
"format":"%-d/%-m/%y %-H:%M","labelExpr":"date(datum.value)%2==0?datum.label:''",
"grid":true,"gridColor":{"condition":{"test":"date(datum.value)==3","value":"#c0c0c0"},"value":"#8e8e8e"},"gridWidth":1.5,
"domain":false,"ticks":false,"labelFont":"Liberation Sans","labelFontWeight":"bold","labelFontSize":18,"labelColor":"#595959","labelPadding":14,"labelOverlap":false,"labelFlush":false,"title":null}},
"y":{"field":"value","type":"quantitative",
"scale":{"domain":[0,0.00035],"nice":false,"zero":false},
"axis":{"values":[0,0.00005,0.0001,0.00015,0.0002,0.00025,0.0003,0.00035],
"labelExpr":"round(datum.value/0.00005)%2==1?replace(replace(format(datum.value,'.2e'),'.',','),'e-','E-0'):''",
"grid":true,"gridColor":{"condition":{"test":"datum.value==0","value":"#c0c0c0"},"value":"#8e8e8e"},"gridWidth":1.5,
"domain":false,"ticks":false,"labelFont":"Liberation Sans","labelFontWeight":"bold","labelFontSize":16.5,"labelColor":"#595959","labelPadding":17,
"title":"ormalize","titleFont":"Liberation Sans","titleFontSize":17,"titleFontWeight":"bold","titleColor":"black","titleX":-105,"titleY":275,"titleAngle":270,"titleAlign":"center","titleBaseline":"middle"}},
"color":{"field":"series","type":"nominal","scale":{"domain":["a","b","c","d","e","f","g","h","i"],"range":["#5B9BD5","#ED7D31","#A5A5A5","#FFC000","#70AD47","#255E91","#9E480E","#636363","#997300"]},"legend":null}
}
},
{
"data":{"values":[
{"x1":"2022-07-02T00:00","x2":"2022-07-02T07:11","y1":-0.00006,"y2":0.00038},
{"x1":"2022-07-02T00:00","x2":"2022-07-09T00:00","y1":0.0003649,"y2":0.00038},
{"x1":"2022-07-02T00:00","x2":"2022-07-02T19:14","y1":-0.00006,"y2":-0.0000284},
{"x1":"2022-07-03T10:23","x2":"2022-07-04T16:12","y1":-0.00006,"y2":-0.0000284},
{"x1":"2022-07-05T07:21","x2":"2022-07-06T14:43","y1":-0.00006,"y2":-0.0000284},
{"x1":"2022-07-07T05:52","x2":"2022-07-09T00:00","y1":-0.00006,"y2":-0.0000284}
]},
"mark":{"type":"rect","color":"#b584d8"},
"encoding":{
"x":{"field":"x1","type":"temporal"},
"x2":{"field":"x2"},
"y":{"field":"y1","type":"quantitative"},
"y2":{"field":"y2"}
}
},
{
"data":{"values":[{"x1":"2022-07-04T03:26","x2":"2022-07-06T16:02","y1":0.0002769,"y2":0.0003337}]},
"mark":{"type":"rect","fill":"white","stroke":"black","strokeWidth":3},
"encoding":{
"x":{"field":"x1","type":"temporal"},
"x2":{"field":"x2"},
"y":{"field":"y1","type":"quantitative"},
"y2":{"field":"y2"}
}
},
{
"data":{"values":[{"t":"2022-07-05T09:01","v":0.0003039,"label":"Monoterpene Products"}]},
"mark":{"type":"text","font":"Open Sans","fontSize":42,"color":"black","align":"center","baseline":"middle"},
"encoding":{
"x":{"field":"t","type":"temporal"},
"y":{"field":"v","type":"quantitative"},
"text":{"field":"label"}
}
},
{
"data":{"values":[{"v":0.0003,"label":"3E-4"},{"v":0.0002,"label":"2E-4"},{"v":0.0001,"label":"1E-4"},{"v":0,"label":"0E-4"}]},
"mark":{"type":"text","font":"Open Sans","fontSize":43,"color":"black","align":"right","baseline":"middle","dy":-2},
"encoding":{
"x":{"datum":{"year":2022,"month":7,"date":2,"hours":20,"minutes":18},"type":"temporal"},
"y":{"field":"v","type":"quantitative"},
"text":{"field":"label"}
}
},
{
"data":{"values":[{"x1":"2022-07-02T19:35","x2":"2022-07-02T23:40","y1":-0.0000199,"y2":0.0000142}]},
"mark":{"type":"rect","fill":"white"},
"encoding":{
"x":{"field":"x1","type":"temporal"},
"x2":{"field":"x2"},
"y":{"field":"y1","type":"quantitative"},
"y2":{"field":"y2"}
}
},
{
"data":{"values":[{"t":"2022-07-03T02:45","label":"3 Jul"},{"t":"2022-07-04T23:36","label":"5 Jul"},{"t":"2022-07-06T22:07","label":"7 Jul"}]},
"mark":{"type":"text","font":"Open Sans","fontSize":40,"color":"black","align":"center","baseline":"middle"},
"encoding":{
"x":{"field":"t","type":"temporal"},
"y":{"datum":-0.00003,"type":"quantitative"},
"text":{"field":"label"}
}
},
{
"data":{"values":[
{"x1":"2022-07-02T09:27","x2":"2022-07-02T09:27","y1":0.0001789,"y2":0.0001299},
{"x1":"2022-07-02T13:02","x2":"2022-07-02T13:02","y1":0.0001789,"y2":0.0001299},
{"x1":"2022-07-02T09:20","x2":"2022-07-02T13:09","y1":0.0002357,"y2":0.0002357}
]},
"mark":{"type":"rule","color":"black","strokeWidth":2},
"encoding":{
"x":{"field":"x1","type":"temporal"},
"x2":{"field":"x2"},
"y":{"field":"y1","type":"quantitative"},
"y2":{"field":"y2"}
}
}
]
}
